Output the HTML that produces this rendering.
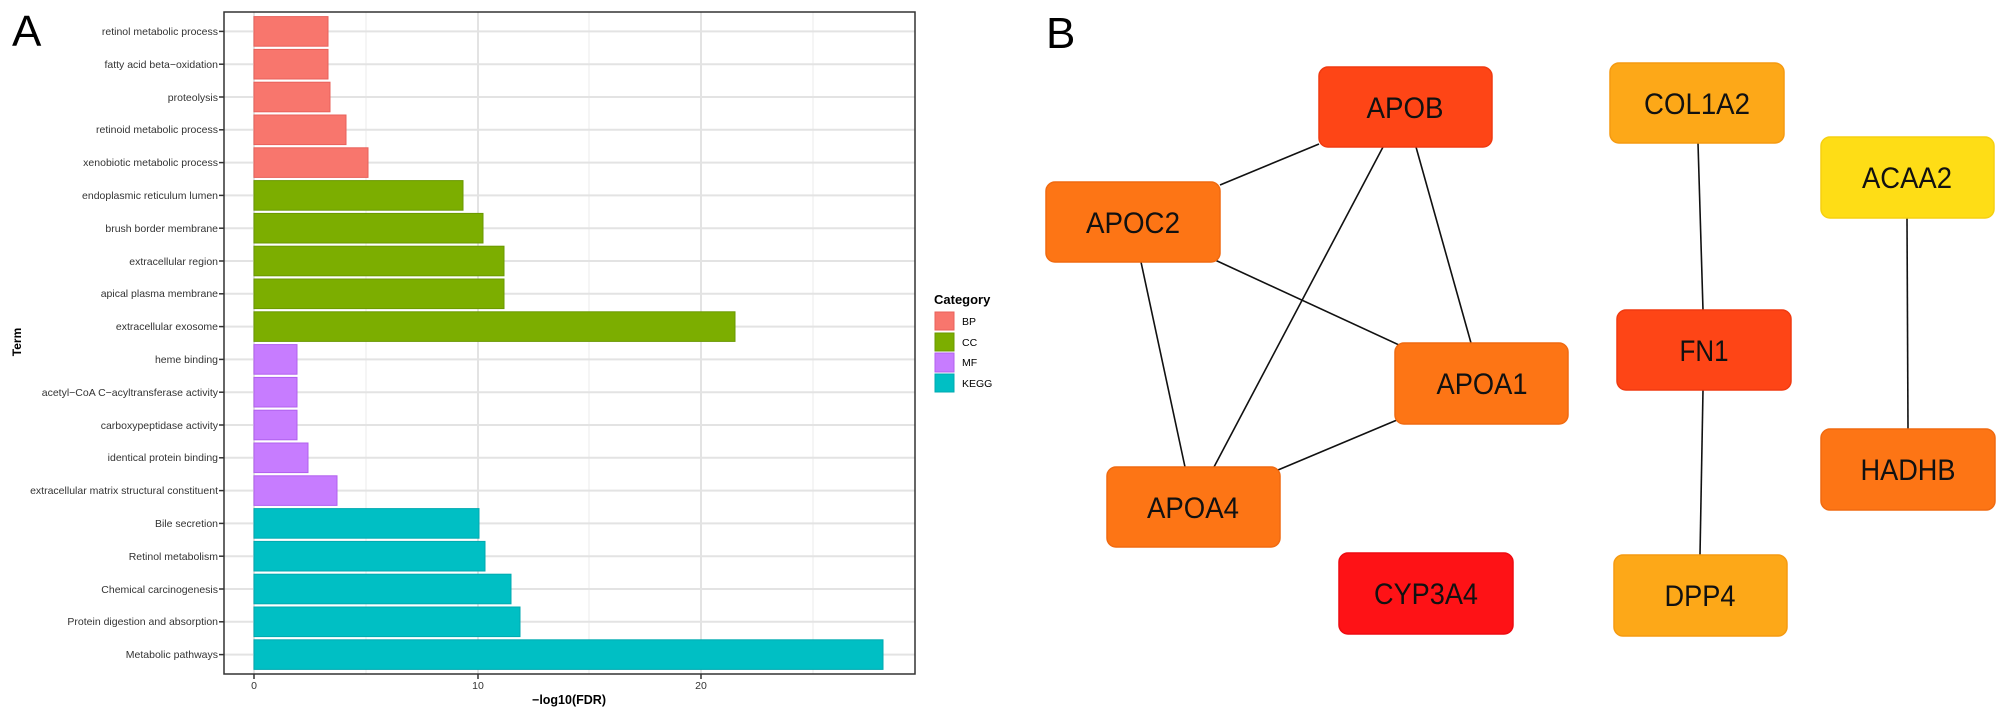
<!DOCTYPE html>
<html><head><meta charset="utf-8"><style>
html,body{margin:0;padding:0;background:#fff;}
svg{display:block;font-family:"Liberation Sans",sans-serif;}
</style></head><body>
<svg width="2007" height="712" viewBox="0 0 2007 712" xmlns="http://www.w3.org/2000/svg">
<rect width="2007" height="712" fill="#fff"/>
<text x="12" y="46" font-size="44" fill="#000">A</text>
<text x="1046" y="48" font-size="44" fill="#000">B</text>

<!-- grid -->
<g stroke="#ebebeb" stroke-width="1">
<line x1="366" y1="12" x2="366" y2="674"/><line x1="589" y1="12" x2="589" y2="674"/><line x1="813" y1="12" x2="813" y2="674"/>
</g>
<g stroke="#e3e3e3" stroke-width="2">
<line x1="254" y1="12" x2="254" y2="674"/><line x1="478" y1="12" x2="478" y2="674"/><line x1="701" y1="12" x2="701" y2="674"/>
</g>
<g stroke="#e3e3e3" stroke-width="2" id="hg">
<line x1="224" x2="915" y1="31.4" y2="31.4"/><line x1="224" x2="915" y1="64.2" y2="64.2"/><line x1="224" x2="915" y1="97" y2="97"/><line x1="224" x2="915" y1="129.8" y2="129.8"/><line x1="224" x2="915" y1="162.6" y2="162.6"/><line x1="224" x2="915" y1="195.4" y2="195.4"/><line x1="224" x2="915" y1="228.2" y2="228.2"/><line x1="224" x2="915" y1="261" y2="261"/><line x1="224" x2="915" y1="293.8" y2="293.8"/><line x1="224" x2="915" y1="326.6" y2="326.6"/><line x1="224" x2="915" y1="359.4" y2="359.4"/><line x1="224" x2="915" y1="392.2" y2="392.2"/><line x1="224" x2="915" y1="425" y2="425"/><line x1="224" x2="915" y1="457.8" y2="457.8"/><line x1="224" x2="915" y1="490.6" y2="490.6"/><line x1="224" x2="915" y1="523.4" y2="523.4"/><line x1="224" x2="915" y1="556.2" y2="556.2"/><line x1="224" x2="915" y1="589" y2="589"/><line x1="224" x2="915" y1="621.8" y2="621.8"/><line x1="224" x2="915" y1="654.6" y2="654.6"/>
</g>

<!-- bars -->
<g stroke-width="1">
<g fill="#F8766D" stroke="#e8605a">
<rect x="254" y="16.6" width="74" height="29.6"/>
<rect x="254" y="49.4" width="74" height="29.6"/>
<rect x="254" y="82.2" width="76" height="29.6"/>
<rect x="254" y="115" width="92" height="29.6"/>
<rect x="254" y="147.8" width="114" height="29.6"/>
</g>
<g fill="#7CAE00" stroke="#6a9800">
<rect x="254" y="180.6" width="209" height="29.6"/>
<rect x="254" y="213.4" width="229" height="29.6"/>
<rect x="254" y="246.2" width="250" height="29.6"/>
<rect x="254" y="279" width="250" height="29.6"/>
<rect x="254" y="311.8" width="481" height="29.6"/>
</g>
<g fill="#C77CFF" stroke="#b060ee">
<rect x="254" y="344.6" width="43" height="29.6"/>
<rect x="254" y="377.4" width="43" height="29.6"/>
<rect x="254" y="410.2" width="43" height="29.6"/>
<rect x="254" y="443" width="54" height="29.6"/>
<rect x="254" y="475.8" width="83" height="29.6"/>
</g>
<g fill="#00BFC4" stroke="#00aab0">
<rect x="254" y="508.6" width="225" height="29.6"/>
<rect x="254" y="541.4" width="231" height="29.6"/>
<rect x="254" y="574.2" width="257" height="29.6"/>
<rect x="254" y="607" width="266" height="29.6"/>
<rect x="254" y="639.8" width="629" height="29.6"/>
</g>
</g>
<rect x="224" y="12" width="691" height="662" fill="none" stroke="#333" stroke-width="1.5"/>

<!-- y tick labels -->
<g font-size="10.5" fill="#333" text-anchor="end">
<text x="218" y="35">retinol metabolic process</text>
<text x="218" y="68">fatty acid beta−oxidation</text>
<text x="218" y="101">proteolysis</text>
<text x="218" y="133">retinoid metabolic process</text>
<text x="218" y="166">xenobiotic metabolic process</text>
<text x="218" y="199">endoplasmic reticulum lumen</text>
<text x="218" y="232">brush border membrane</text>
<text x="218" y="265">extracellular region</text>
<text x="218" y="297">apical plasma membrane</text>
<text x="218" y="330">extracellular exosome</text>
<text x="218" y="363">heme binding</text>
<text x="218" y="396">acetyl−CoA C−acyltransferase activity</text>
<text x="218" y="429">carboxypeptidase activity</text>
<text x="218" y="461">identical protein binding</text>
<text x="218" y="494">extracellular matrix structural constituent</text>
<text x="218" y="527">Bile secretion</text>
<text x="218" y="560">Retinol metabolism</text>
<text x="218" y="593">Chemical carcinogenesis</text>
<text x="218" y="625">Protein digestion and absorption</text>
<text x="218" y="658">Metabolic pathways</text>
</g>
<g stroke="#333" stroke-width="1.5">
<line x1="219" x2="224" y1="31.4" y2="31.4"/><line x1="219" x2="224" y1="64.2" y2="64.2"/><line x1="219" x2="224" y1="97" y2="97"/><line x1="219" x2="224" y1="129.8" y2="129.8"/><line x1="219" x2="224" y1="162.6" y2="162.6"/><line x1="219" x2="224" y1="195.4" y2="195.4"/><line x1="219" x2="224" y1="228.2" y2="228.2"/><line x1="219" x2="224" y1="261" y2="261"/><line x1="219" x2="224" y1="293.8" y2="293.8"/><line x1="219" x2="224" y1="326.6" y2="326.6"/><line x1="219" x2="224" y1="359.4" y2="359.4"/><line x1="219" x2="224" y1="392.2" y2="392.2"/><line x1="219" x2="224" y1="425" y2="425"/><line x1="219" x2="224" y1="457.8" y2="457.8"/><line x1="219" x2="224" y1="490.6" y2="490.6"/><line x1="219" x2="224" y1="523.4" y2="523.4"/><line x1="219" x2="224" y1="556.2" y2="556.2"/><line x1="219" x2="224" y1="589" y2="589"/><line x1="219" x2="224" y1="621.8" y2="621.8"/><line x1="219" x2="224" y1="654.6" y2="654.6"/>
<line x1="254" x2="254" y1="674" y2="679"/><line x1="478" x2="478" y1="674" y2="679"/><line x1="701" x2="701" y1="674" y2="679"/>
</g>
<g font-size="10.5" fill="#333" text-anchor="middle">
<text x="254" y="689">0</text><text x="478" y="689">10</text><text x="701" y="689">20</text>
</g>
<text x="569" y="704" font-size="12.5" font-weight="bold" text-anchor="middle" fill="#000">−log10(FDR)</text>
<text transform="translate(21,342) rotate(-90)" font-size="12" font-weight="bold" text-anchor="middle" fill="#000">Term</text>

<!-- legend -->
<text x="934" y="304" font-size="13" font-weight="bold" fill="#000">Category</text>
<rect x="935" y="312" width="19" height="18" fill="#F8766D" stroke="#e8605a"/>
<rect x="935" y="333" width="19" height="18" fill="#7CAE00" stroke="#6a9800"/>
<rect x="935" y="353" width="19" height="19" fill="#C77CFF" stroke="#b060ee"/>
<rect x="935" y="374" width="19" height="18" fill="#00BFC4" stroke="#00aab0"/>
<g font-size="10.5" fill="#000">
<text x="962" y="325">BP</text><text x="962" y="346">CC</text><text x="962" y="366">MF</text><text x="962" y="387">KEGG</text>
</g>

<!-- network edges -->
<g stroke="#111" stroke-width="1.6">
<line x1="1220" y1="185" x2="1319" y2="144"/>
<line x1="1383" y1="147" x2="1214" y2="467"/>
<line x1="1416" y1="147" x2="1471" y2="343"/>
<line x1="1215" y1="260" x2="1399" y2="345"/>
<line x1="1141" y1="262" x2="1185" y2="467"/>
<line x1="1397" y1="420" x2="1278" y2="470"/>
<line x1="1698" y1="143" x2="1703" y2="310"/>
<line x1="1703" y1="390" x2="1700" y2="555"/>
<line x1="1907" y1="218" x2="1908" y2="429"/>
</g>
<!-- nodes -->
<g stroke-width="1.5">
<rect x="1319" y="67" width="173" height="80" rx="9" fill="#FE4516" stroke="#f03a10"/>
<rect x="1610" y="63" width="174" height="80" rx="9" fill="#FDA818" stroke="#f59a10"/>
<rect x="1821" y="137" width="173" height="81" rx="9" fill="#FEDD16" stroke="#f5d010"/>
<rect x="1046" y="182" width="174" height="80" rx="9" fill="#FD7515" stroke="#f06a10"/>
<rect x="1617" y="310" width="174" height="80" rx="9" fill="#FE4516" stroke="#f03a10"/>
<rect x="1395" y="343" width="173" height="81" rx="9" fill="#FD7515" stroke="#f06a10"/>
<rect x="1821" y="429" width="174" height="81" rx="9" fill="#FD7515" stroke="#f06a10"/>
<rect x="1107" y="467" width="173" height="80" rx="9" fill="#FD7515" stroke="#f06a10"/>
<rect x="1339" y="553" width="174" height="81" rx="9" fill="#FE1216" stroke="#ee0a10"/>
<rect x="1614" y="555" width="173" height="81" rx="9" fill="#FDA818" stroke="#f59a10"/>
</g>
<g font-size="30" fill="#111" text-anchor="middle" lengthAdjust="spacingAndGlyphs">
<text x="1405" y="118" textLength="77" lengthAdjust="spacingAndGlyphs">APOB</text>
<text x="1697" y="114" textLength="106" lengthAdjust="spacingAndGlyphs">COL1A2</text>
<text x="1907" y="188" textLength="90" lengthAdjust="spacingAndGlyphs">ACAA2</text>
<text x="1133" y="233" textLength="94" lengthAdjust="spacingAndGlyphs">APOC2</text>
<text x="1704" y="361" textLength="49" lengthAdjust="spacingAndGlyphs">FN1</text>
<text x="1482" y="394" textLength="91" lengthAdjust="spacingAndGlyphs">APOA1</text>
<text x="1908" y="480" textLength="95" lengthAdjust="spacingAndGlyphs">HADHB</text>
<text x="1193" y="518" textLength="92" lengthAdjust="spacingAndGlyphs">APOA4</text>
<text x="1426" y="604" textLength="104" lengthAdjust="spacingAndGlyphs">CYP3A4</text>
<text x="1700" y="606" textLength="71" lengthAdjust="spacingAndGlyphs">DPP4</text>
</g>
</svg>
</body></html>
